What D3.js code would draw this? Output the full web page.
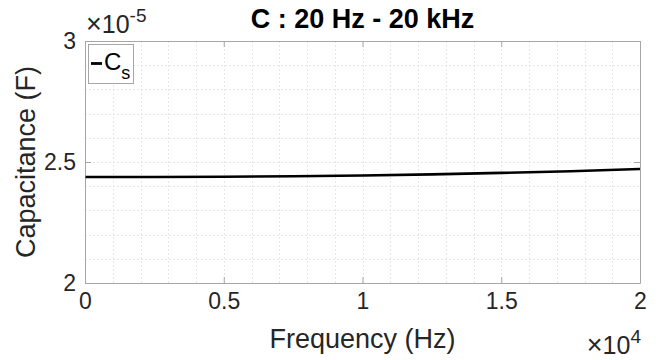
<!DOCTYPE html>
<html>
<head>
<meta charset="utf-8">
<script src="https://cdn.jsdelivr.net/npm/d3@7"></script>
<style>
 body{margin:0;background:#fff;}
 svg{display:block;font-family:"Liberation Sans",Arial,sans-serif;}
</style>
</head>
<body>
<div id="chart"></div>
<script>
const freq=[20,2500,5000,7500,10000,12500,15000,17500,20000];
const capacitance=[2.438e-5,2.438e-5,2.439e-5,2.441e-5,2.444e-5,2.449e-5,2.455e-5,2.462e-5,2.471e-5];
const xTicks=[0,5000,10000,15000,20000];
const xTickLabels=['0','0.5','1','1.5','2'];
const yTicks=[2e-5,2.5e-5,3e-5];
const yTickLabels=['2','2.5','3'];

const W=661,H=360,m={l:85,r:21,t:41,b:77};
const svg=d3.select('#chart').append('svg').attr('width',W).attr('height',H);
const x=d3.scaleLinear().domain([0,20000]).range([m.l,W-m.r]);
const y=d3.scaleLinear().domain([2e-5,3e-5]).range([H-m.b,m.t]);

// grid (minor every 0.1 of the exponent unit)
const gx=d3.range(0,20001,1000),gy=d3.range(0,11).map(i=>2e-5+i*1e-6);
const grid=svg.append('g').attr('stroke','#e6e6e6').attr('stroke-width',1).attr('stroke-dasharray','2,2');
grid.selectAll('line.gx').data(gx).enter().append('line')
  .attr('x1',d=>Math.round(x(d))+0.5).attr('x2',d=>Math.round(x(d))+0.5).attr('y1',m.t).attr('y2',H-m.b);
grid.selectAll('line.gy').data(gy).enter().append('line')
  .attr('y1',d=>Math.round(y(d))+0.5).attr('y2',d=>Math.round(y(d))+0.5).attr('x1',m.l).attr('x2',W-m.r);

// axes: ticks inward on all four sides
const axCol='#a6a6a6',tl=6;
const ax=g=>g.call(s=>s.select('.domain').attr('stroke',axCol)).call(s=>s.selectAll('.tick line').attr('stroke',axCol))
  .call(s=>s.selectAll('.tick text').attr('fill','#262626').attr('font-size',23));
svg.append('g').attr('transform',`translate(0,${H-m.b})`)
  .call(d3.axisBottom(x).tickValues(xTicks).tickFormat((d,i)=>xTickLabels[i]).tickSizeInner(-tl).tickSizeOuter(0).tickPadding(10))
  .call(ax);
svg.append('g').attr('transform',`translate(0,${m.t})`)
  .call(d3.axisTop(x).tickValues(xTicks).tickFormat('').tickSizeInner(-tl).tickSizeOuter(0)).call(ax);
svg.append('g').attr('transform',`translate(${m.l},0)`)
  .call(d3.axisLeft(y).tickValues(yTicks).tickFormat((d,i)=>yTickLabels[i]).tickSizeInner(-tl).tickSizeOuter(0).tickPadding(9))
  .call(ax);
svg.append('g').attr('transform',`translate(${W-m.r},0)`)
  .call(d3.axisRight(y).tickValues(yTicks).tickFormat('').tickSizeInner(-tl).tickSizeOuter(0)).call(ax);
svg.selectAll('.domain').attr('stroke',axCol);

// data line
svg.append('path').datum(freq.map((f,i)=>[f,capacitance[i]]))
  .attr('d',d3.line().x(d=>x(d[0])).y(d=>y(d[1])).curve(d3.curveMonotoneX))
  .attr('fill','none').attr('stroke','#000').attr('stroke-width',2.6);

// exponent labels
const e1=svg.append('text').attr('x',m.l+1).attr('y',33).attr('font-size',25).attr('fill','#262626');
e1.append('tspan').attr('font-size',27).attr('font-weight',300).text('\u00d7');
e1.append('tspan').text('10');
e1.append('tspan').attr('dy',-11).attr('font-size',19).text('-5');
const e2=svg.append('text').attr('x',W-m.r+1).attr('y',354).attr('font-size',25).attr('fill','#262626').attr('text-anchor','end');
e2.append('tspan').attr('font-size',27).attr('font-weight',300).text('\u00d7');
e2.append('tspan').text('10');
e2.append('tspan').attr('dy',-11).attr('font-size',19).text('4');

// titles
svg.append('text').attr('x',(m.l+W-m.r)/2).attr('y',28).attr('text-anchor','middle')
  .attr('font-size',27).attr('font-weight','bold').attr('fill','#000').text('C : 20 Hz - 20 kHz');
svg.append('text').attr('x',(m.l+W-m.r)/2).attr('y',348).attr('text-anchor','middle')
  .attr('font-size',27).attr('fill','#262626').text('Frequency (Hz)');
svg.append('text').attr('transform',`translate(35,${(m.t+H-m.b)/2}) rotate(-90)`).attr('text-anchor','middle')
  .attr('font-size',27).attr('fill','#262626').text('Capacitance (F)');

// legend
const lg=svg.append('g').attr('transform',`translate(${m.l+3},${m.t+3})`);
lg.append('rect').attr('x',0.5).attr('y',0.5).attr('width',45).attr('height',39).attr('fill','#fff').attr('stroke','#a6a6a6');
lg.append('line').attr('x1',3).attr('x2',14).attr('y1',19.5).attr('y2',19.5).attr('stroke','#000').attr('stroke-width',2.8);
const lt=lg.append('text').attr('x',16).attr('y',26).attr('font-size',24).attr('fill','#000');
lt.append('tspan').text('C');
lt.append('tspan').attr('dy',9).attr('font-size',18).text('s');
</script>
</body>
</html>
